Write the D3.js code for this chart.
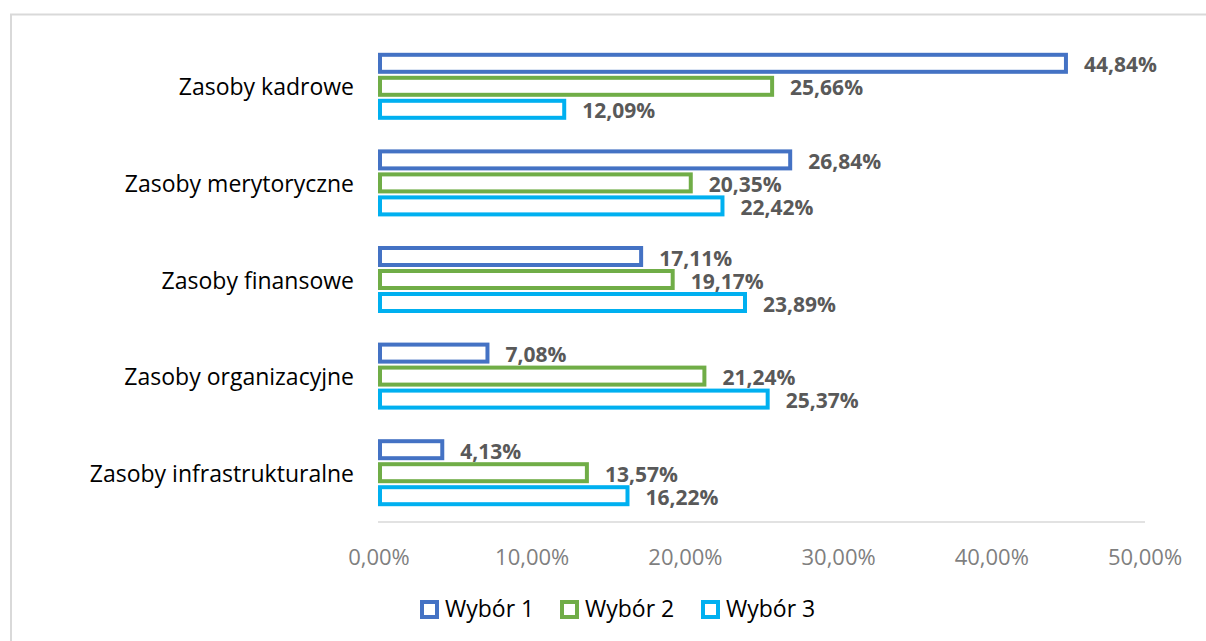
<!DOCTYPE html>
<html>
<head>
<meta charset="utf-8">
<script src="https://cdn.jsdelivr.net/npm/d3@7"></script>
<style>
  body { margin: 0; background: #fff; }
  text { font-family: "Open Sans", sans-serif; }
</style>
</head>
<body>
<div class="chart"></div>
<script>
let w = 1206;
let h = 641;

// data
let categories = ["Zasoby kadrowe", "Zasoby merytoryczne", "Zasoby finansowe", "Zasoby organizacyjne", "Zasoby infrastrukturalne"];
let seriesNames = ["Wybór 1", "Wybór 2", "Wybór 3"];
let wybor1 = [44.84, 26.84, 17.11, 7.08, 4.13];
let wybor2 = [25.66, 20.35, 19.17, 21.24, 13.57];
let wybor3 = [12.09, 22.42, 23.89, 25.37, 16.22];
let ticks = [0, 10, 20, 30, 40, 50];
let colors = ["#4472C4", "#70AD47", "#00B0F0"];

let series = [wybor1, wybor2, wybor3];

let viz = d3.select(".chart")
  .append("svg")
    .attr("width", w)
    .attr("height", h)
;

// outer chart border
viz.append("rect")
  .attr("x", 11)
  .attr("y", 14.5)
  .attr("width", w)
  .attr("height", h)
  .attr("fill", "none")
  .attr("stroke", "#d9d9d9")
  .attr("stroke-width", 2)
;

let plotLeft = 379, plotRight = 1145, plotTop = 39, plotBottom = 522;

let x = d3.scaleLinear().domain([0, 50]).range([plotLeft, plotRight]);
let y = d3.scaleBand().domain(categories).range([plotTop, plotBottom]);
let inner = d3.scaleBand().domain([0, 1, 2]).range([0, 69]);

let fmt = function(v) { return v.toFixed(2).replace(".", ",") + "%"; };

// axis line
viz.append("line")
  .attr("x1", plotLeft - 1)
  .attr("x2", plotRight)
  .attr("y1", plotBottom)
  .attr("y2", plotBottom)
  .attr("stroke", "#d9d9d9")
  .attr("stroke-width", 1.5)
;

// tick labels
viz.append("g").selectAll("text")
  .data(ticks)
  .join("text")
    .attr("x", function(d) { return x(d); })
    .attr("y", 565)
    .attr("text-anchor", "middle")
    .attr("font-size", 22)
    .attr("fill", "#7f7f7f")
    .text(function(d) { return fmt(d); })
;

// category labels
viz.append("g").selectAll("text")
  .data(categories)
  .join("text")
    .attr("x", 354)
    .attr("y", function(d) { return y(d) + y.bandwidth() / 2 + 8; })
    .attr("text-anchor", "end")
    .attr("font-size", 23)
    .attr("fill", "#000")
    .text(function(d) { return d; })
;

// bars
let groupOffset = (y.bandwidth() - 69) / 2;
series.forEach(function(vals, s) {
  let g = viz.append("g");
  g.selectAll("rect")
    .data(vals)
    .join("rect")
      .attr("x", x(0) + 1)
      .attr("y", function(d, i) { return y(categories[i]) + groupOffset + inner(s) + 2; })
      .attr("width", function(d) { return x(d) - x(0) - 1; })
      .attr("height", inner.bandwidth() - 6)
      .attr("fill", "#fff")
      .attr("stroke", colors[s])
      .attr("stroke-width", 4)
  ;
  g.selectAll("text")
    .data(vals)
    .join("text")
      .attr("x", function(d) { return x(d) + 18; })
      .attr("y", function(d, i) { return y(categories[i]) + groupOffset + inner(s) + inner.bandwidth() / 2 + 8; })
      .attr("font-size", 21)
      .attr("font-weight", "bold")
      .attr("fill", "#595959")
      .text(function(d) { return fmt(d); })
  ;
});

// legend
let legendX = [420, 560, 701];
let legend = viz.append("g").selectAll("g")
  .data(seriesNames)
  .join("g")
    .attr("transform", function(d, i) { return "translate(" + legendX[i] + ",600)"; })
;
legend.append("rect")
  .attr("x", 2)
  .attr("y", 2)
  .attr("width", 15)
  .attr("height", 15)
  .attr("fill", "#fff")
  .attr("stroke", function(d, i) { return colors[i]; })
  .attr("stroke-width", 4)
;
legend.append("text")
  .attr("x", 25)
  .attr("y", 17)
  .attr("font-size", 23)
  .attr("fill", "#000")
  .text(function(d) { return d; })
;
</script>
</body>
</html>
